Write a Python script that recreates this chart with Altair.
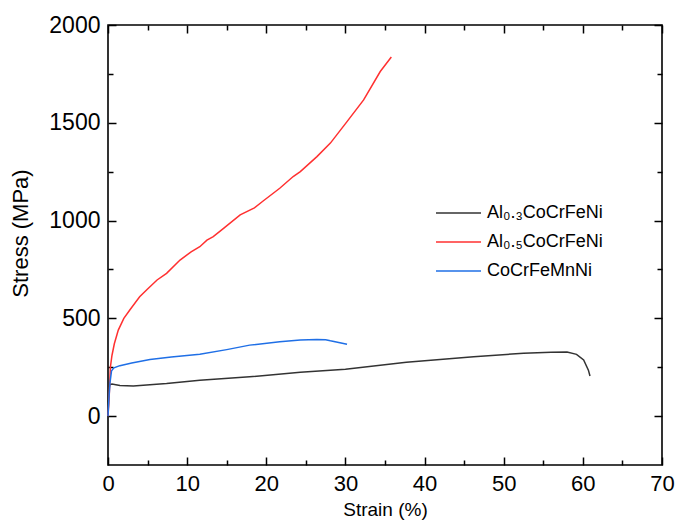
import altair as alt
import pandas as pd

# ---- data ----
series_names = ["Al₀.₃CoCrFeNi", "Al₀.₅CoCrFeNi", "CoCrFeMnNi"]
series_colors = ["#333333", "#ff3030", "#1f6fe6"]

al03_strain = [0, 0.1, 0.2, 0.5, 1.5, 3.2, 7.4, 11.6, 17.9, 24.3, 30.0, 37.7, 46.2, 52.5, 56.0, 58.0, 59.2, 60.1, 60.7, 60.9]
al03_stress = [0, 120, 160, 164, 156, 154, 167, 184, 201, 224, 240, 275, 304, 321, 327, 328, 316, 287, 235, 205]

al05_strain = [0, 0.15, 0.3, 0.5, 0.8, 1.3, 2.0, 2.8, 4.0, 5.0, 6.2, 7.4, 9.1, 10.5, 11.6, 12.5, 13.3, 14.6, 16.7, 18.5,
               19.6, 21.7, 23.4, 24.3, 26.4, 28.1, 30.2, 32.3, 34.4, 35.8]
al05_stress = [0, 100, 250, 310, 370, 440, 500, 545, 610, 650, 696, 730, 798, 840, 866, 900, 918, 960, 1029, 1065,
               1100, 1165, 1225, 1250, 1327, 1396, 1506, 1617, 1762, 1836]

cantor_strain = [0, 0.1, 0.25, 0.45, 0.75, 1.5, 3.0, 5.3, 8.0, 11.6, 15.0, 17.9, 21.7, 24.3, 26.4, 27.5, 28.1, 29.0, 30.2]
cantor_stress = [0, 80, 170, 232, 247, 258, 272, 290, 302, 316, 340, 363, 380, 389, 392, 391, 385, 378, 367]

x_major = [0, 10, 20, 30, 40, 50, 60, 70]
x_ticks = [0, 5, 10, 15, 20, 25, 30, 35, 40, 45, 50, 55, 60, 65, 70]
y_major = [0, 500, 1000, 1500, 2000]
y_ticks = [0, 250, 500, 750, 1000, 1250, 1500, 1750, 2000]

rows = []
for name, xs, ys in zip(series_names, [al03_strain, al05_strain, cantor_strain],
                        [al03_stress, al05_stress, cantor_stress]):
    for i, (a, b) in enumerate(zip(xs, ys)):
        rows.append({"series": name, "strain": a, "stress": b, "idx": i})
df = pd.DataFrame(rows)

W, H = 554, 440
FONT = "Liberation Sans"

xscale = alt.Scale(domain=[0, 70], nice=False, zero=False)
yscale = alt.Scale(domain=[-250, 2000], nice=False, zero=False)

base = alt.Chart(df)

lines = base.mark_line(strokeWidth=1.5).encode(
    x=alt.X("strain:Q", scale=xscale,
            axis=alt.Axis(orient="bottom", values=x_major, ticks=False, domain=False, grid=False,
                          format="d", labelFlush=False, labelOverlap=False,
                          labelFontSize=22, labelPadding=8, labelFont=FONT, labelColor="black",
                          title="Strain (%)", titleFontSize=19, titleFontWeight="normal",
                          titleFont=FONT, titlePadding=6, titleColor="black")),
    y=alt.Y("stress:Q", scale=yscale,
            axis=alt.Axis(orient="left", values=y_major, ticks=False, domain=False, grid=False,
                          format="d", labelFlush=False, labelOverlap=False,
                          labelFontSize=23, labelPadding=8, labelFont=FONT, labelColor="black",
                          title="Stress (MPa)", titleFontSize=22, titleFontWeight="normal",
                          titleFont=FONT, titlePadding=16, titleY=208, titleColor="black")),
    color=alt.Color("series:N", sort=series_names,
                    scale=alt.Scale(domain=series_names, range=series_colors),
                    legend=alt.Legend(title=None, orient="none", legendX=327, legendY=178,
                                      symbolType="stroke", symbolSize=2025, symbolStrokeWidth=1.5,
                                      labelFontSize=18, labelFont=FONT, labelColor="black",
                                      labelOffset=5, clipHeight=20, rowPadding=9, padding=0)),
    order="idx:Q",
)

xs_x = {"condition": {"test": "datum.value % 10 === 0", "value": 8}, "value": 5}
ys_y = {"condition": {"test": "datum.value % 500 === 0", "value": 8}, "value": 5}

ticks_a = base.mark_line(opacity=0).encode(
    x=alt.X("strain:Q", scale=xscale,
            axis=alt.Axis(orient="top", offset=-H, values=x_ticks, labels=False, domain=False,
                          grid=False, title=None, tickSize=xs_x, tickWidth=1.5, tickColor="black")),
    y=alt.Y("stress:Q", scale=yscale,
            axis=alt.Axis(orient="right", offset=-W, values=y_ticks, labels=False, domain=False,
                          grid=False, title=None, tickSize=ys_y, tickWidth=1.5, tickColor="black")),
    detail="series:N",
)

ticks_b = base.mark_line(opacity=0).encode(
    x=alt.X("strain:Q", scale=xscale,
            axis=alt.Axis(orient="bottom", offset=-H, values=x_ticks, labels=False, domain=False,
                          grid=False, title=None, tickSize=xs_x, tickWidth=1.5, tickColor="black")),
    y=alt.Y("stress:Q", scale=yscale,
            axis=alt.Axis(orient="left", offset=-W, values=y_ticks, labels=False, domain=False,
                          grid=False, title=None, tickSize=ys_y, tickWidth=1.5, tickColor="black")),
    detail="series:N",
)

chart = alt.layer(lines, ticks_a, ticks_b).resolve_axis(
    x="independent", y="independent"
).properties(
    width=W, height=H,
    autosize=alt.AutoSizeParams(type="none"),
    padding={"left": 108, "top": 25, "right": 15, "bottom": 57},
    background="white",
).configure_view(
    stroke="black", strokeWidth=1.6
)

chart.save("out.html", embed_options={"renderer": "svg", "actions": False})
